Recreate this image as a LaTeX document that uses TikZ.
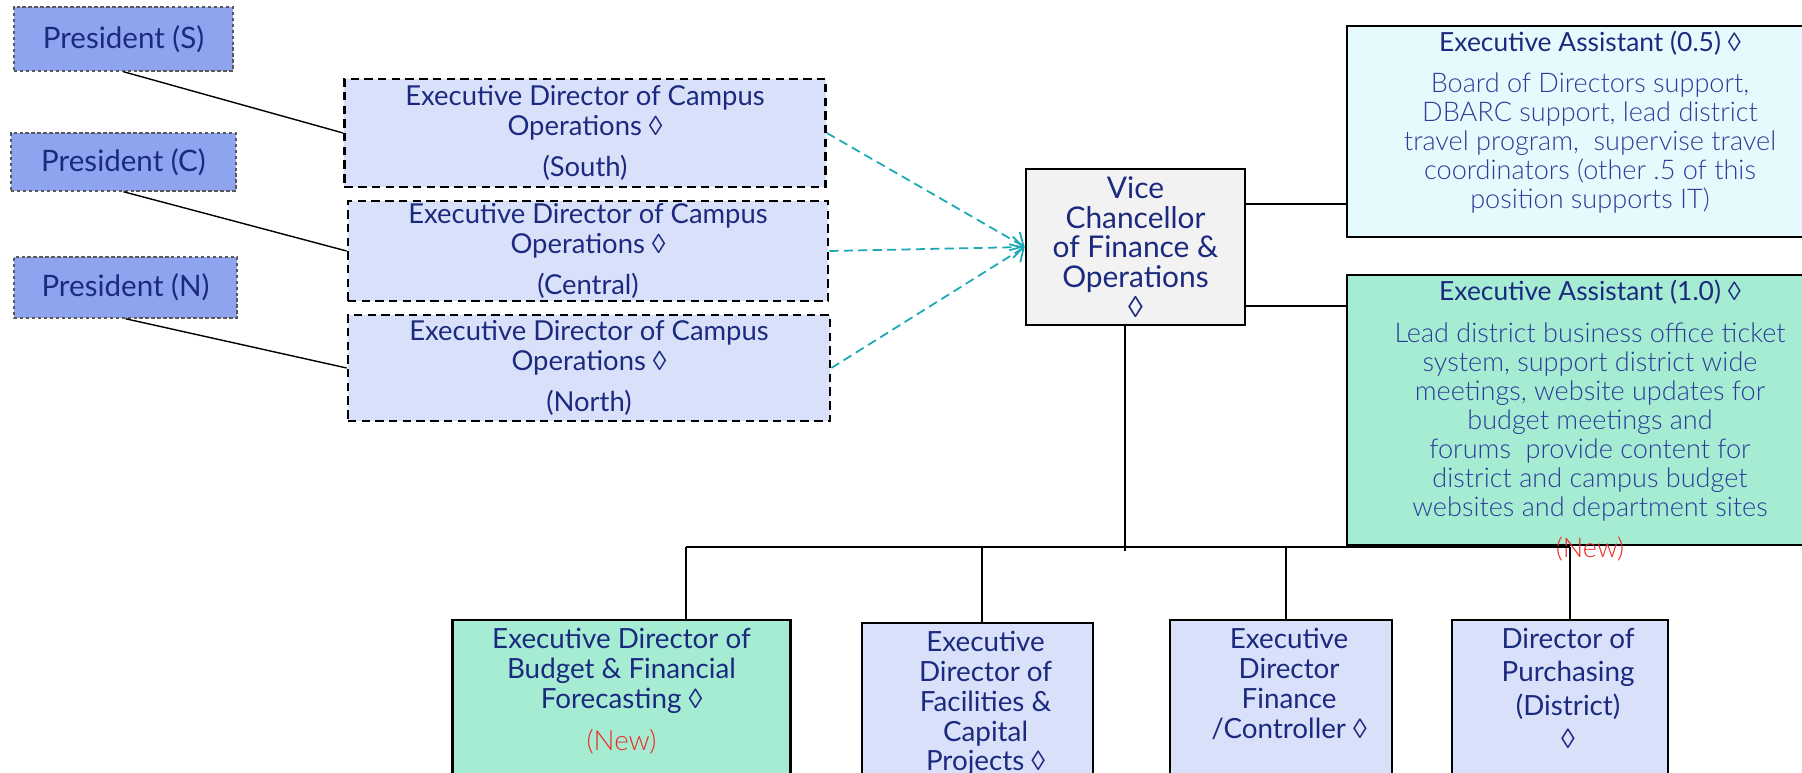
\documentclass[tikz,border=0pt]{standalone}
\usepackage{fontspec}
\setmainfont{Lato}
\newfontfamily\lightfont{Lato Light}
\newfontfamily\symfont{Liberation Sans}
\usetikzlibrary{arrows.meta, positioning, calc}
\definecolor{presBlue}{HTML}{8FA4EE}
\definecolor{opsBlue}{HTML}{D9E1FA}
\definecolor{vcGray}{HTML}{F2F2F2}
\definecolor{paleCyan}{HTML}{E6FAFD}
\definecolor{newMint}{HTML}{A6ECD3}
\definecolor{mainNavy}{HTML}{1B2A7F}
\definecolor{bodyBlue}{HTML}{2C3C98}
\definecolor{newRed}{HTML}{EE2A24}
\definecolor{dashTeal}{HTML}{1AA8B5}
\newcommand{\loz}{{\symfont\char"25CA}}
\newcommand{\newtag}{{\lightfont\color{newRed}(New)}}
\newcommand{\titlefont}{\normalfont\fontsize{7.5}{8.25}\selectfont\color{mainNavy}}

\begin{document}
\begin{tikzpicture}[x=0.01cm, y=-0.01cm, >={Straight Barb[length=3pt,width=6pt]},
    orgbox/.style={draw, rectangle, inner sep=0pt, text=mainNavy, align=center},
    presbox/.style={orgbox, draw=black!65, line width=0.4pt, dash pattern=on 1pt off 0.7pt, fill=presBlue, font=\fontsize{8.4}{9}\selectfont},
    opsbox/.style={orgbox, line width=0.7pt, dash pattern=on 2.4pt off 1.5pt, fill=opsBlue, minimum width=4.81cm, font=\fontsize{7.8}{8.5}\selectfont},
    vcbox/.style={orgbox, line width=0.7pt, fill=vcGray, minimum width=2.19cm, minimum height=1.56cm, font=\fontsize{8.5}{8.5}\selectfont},
    eabox/.style={orgbox, line width=0.7pt, minimum width=4.86cm},
    lowbox/.style={orgbox, line width=0.8pt, fill=opsBlue, minimum height=1.8cm},
    toptext/.style={anchor=north, inner sep=0pt, text=mainNavy, align=center},
    eatext/.style={toptext, text=bodyBlue, font=\lightfont\fontsize{7.7}{8.25}\selectfont},
    lowtext/.style={toptext, font=\fontsize{7.9}{8.5}\selectfont},
    conn/.style={line width=0.6pt},
    thinconn/.style={line width=0.4pt},
    dotlink/.style={->, dashTeal, line width=0.5pt, dash pattern=on 2.6pt off 1.5pt}]
    \useasboundingbox (0,0) rectangle (1802,773);

    % presidents
    \node[presbox, minimum width=2.19cm, minimum height=0.64cm] (presS) at (123.5,39) {President (S)};
    \node[presbox, minimum width=2.25cm, minimum height=0.58cm] (presC) at (123.5,162) {President (C)};
    \node[presbox, minimum width=2.23cm, minimum height=0.61cm] (presN) at (125.5,287.5) {President (N)};

    % campus operations
    \node[opsbox, minimum height=1.08cm] (opsS) at (585,133) {Executive Director of Campus\\Operations \loz\\[3pt](South)};
    \node[opsbox, minimum width=4.80cm, minimum height=1.00cm] (opsC) at (588,251) {Executive Director of Campus\\Operations \loz\\[3pt](Central)};
    \node[opsbox, minimum width=4.82cm, minimum height=1.06cm] (opsN) at (589,368) {Executive Director of Campus\\Operations \loz\\[3pt](North)};

    \node[vcbox] (vc) at (1135.5,247) {Vice\\Chancellor\\of Finance \&\\Operations\\\loz};

    % assistants
    \node[eabox, fill=paleCyan, minimum height=2.11cm,
        label={[eatext, yshift=-1.5pt]north:{{\titlefont Executive Assistant (0.5) \loz}\\[3.5pt]Board of Directors support,\\DBARC support, lead district\\travel program,~ supervise travel\\coordinators (other .5 of this\\position supports IT)}}] (eaHalf) at (1590,131.5) {};
    \node[eabox, fill=newMint, minimum height=2.70cm,
        label={[eatext, yshift=-1.7pt]north:{{\titlefont Executive Assistant (1.0) \loz}\\[3.5pt]Lead district business office ticket\\system, support district wide\\meetings, website updates for\\budget meetings and\\forums~ provide content for\\district and campus budget\\websites and department sites\\[3.5pt]\newtag}}] (eaFull) at (1590,410) {};

    % direct reports
    \node[lowbox, fill=newMint, minimum width=3.37cm,
        label={[lowtext, yshift=-2.5pt]north:{Executive Director of\\Budget \& Financial\\Forecasting \loz\\[3.5pt]\newtag}}] (budget) at (621.5,710) {};
    \node[lowbox, minimum width=2.31cm, minimum height=1.77cm,
        label={[lowtext, yshift=-2.5pt, xshift=2.3pt]north:{Executive\\Director of\\Facilities \&\\Capital\\Projects \loz}}] (facil) at (977.5,711.5) {};
    \node[lowbox, minimum width=2.22cm,
        label={[lowtext, yshift=-2.5pt, xshift=2.3pt]north:{Executive\\Director\\Finance\\/Controller \loz}}] (fin) at (1281,710) {};
    \node[lowbox, minimum width=2.16cm,
        label={[lowtext, yshift=-2.5pt, xshift=2.3pt]north:{Director of\\[1pt]Purchasing\\[1pt](District)\\[1pt]\loz}}] (purch) at (1560,710) {};

    \foreach \p in {S,C,N} {
        \draw[thinconn] (pres\p.south) -- (ops\p.west);
        \draw[dotlink] (ops\p.east) -- (vc.west);
    }

    \coordinate (vcA) at ($(vc.north east)!0.23!(vc.south east)$);
    \coordinate (vcB) at ($(vc.north east)!0.87!(vc.south east)$);
    \draw[conn] (vcA) -- (vcA -| eaHalf.west);
    \draw[conn] (vcB) -- (vcB -| eaFull.west);

    % bus to direct reports
    \coordinate (hub) at (1125,551);
    \coordinate (busL) at (686,547);
    \coordinate (busR) at (1570,547);
    \draw[conn] (hub |- vc.south) -- (hub);
    \draw[conn] (busL) -- (busR);
    \foreach \x/\n in {686/budget, 982/facil, 1286/fin, 1570/purch} {
        \coordinate (drop) at (\x,547);
        \draw[conn] (drop) -- (drop |- \n.north);
    }
\end{tikzpicture}
\end{document}
